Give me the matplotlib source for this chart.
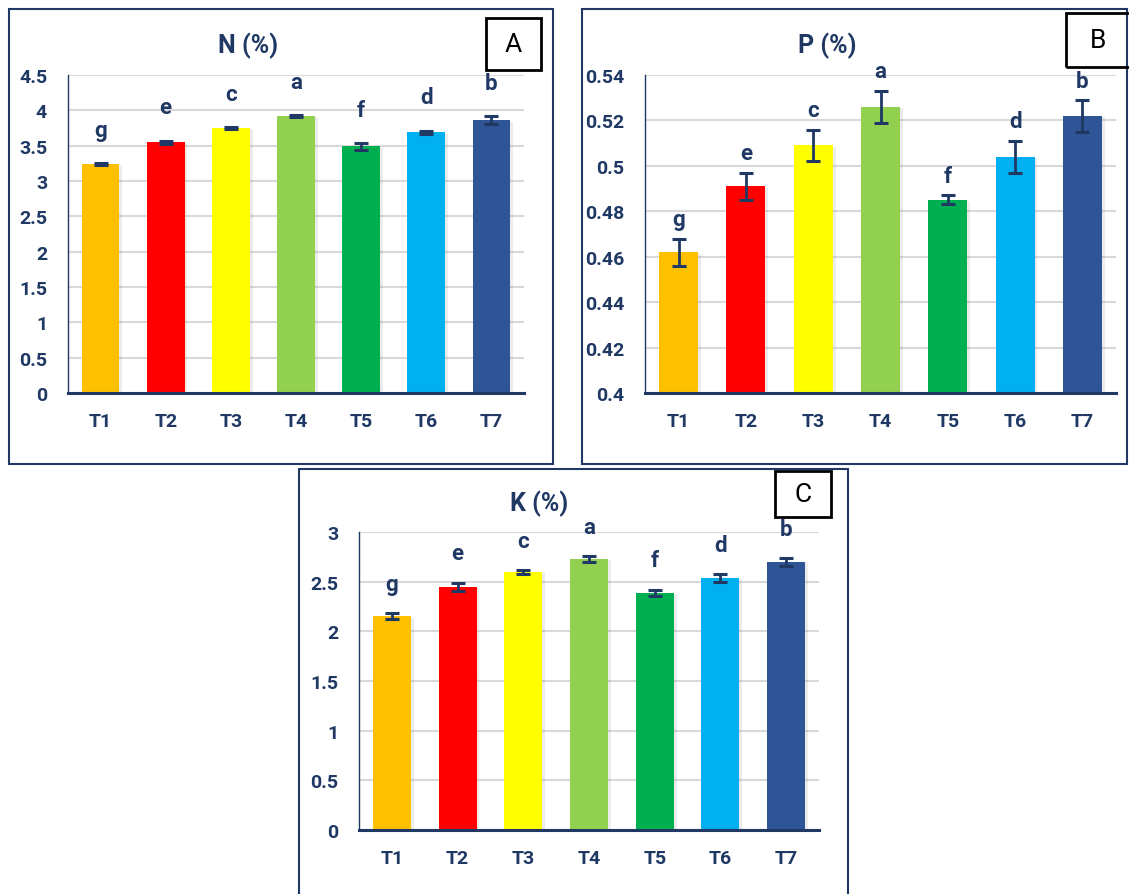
import numpy as np
import matplotlib
matplotlib.use("Agg")
import matplotlib.pyplot as plt
import matplotlib.patheffects as pe
from matplotlib.patches import Rectangle

plt.rcParams['font.family'] = ['Roboto', 'DejaVu Sans']

treatments = ['T1', 'T2', 'T3', 'T4', 'T5', 'T6', 'T7']
bar_colors = ['#FFC000', '#FF0000', '#FFFF00', '#92D050', '#00B050', '#00B0F0', '#2F5597']

n_mean = [3.24, 3.55, 3.75, 3.92, 3.49, 3.69, 3.86]
n_err = [0.01, 0.02, 0.01, 0.01, 0.05, 0.02, 0.06]
n_letters = ['g', 'e', 'c', 'a', 'f', 'd', 'b']

p_mean = [0.462, 0.491, 0.509, 0.526, 0.485, 0.504, 0.522]
p_err = [0.006, 0.006, 0.007, 0.007, 0.002, 0.007, 0.007]
p_letters = ['g', 'e', 'c', 'a', 'f', 'd', 'b']

k_mean = [2.15, 2.45, 2.60, 2.73, 2.39, 2.54, 2.70]
k_err = [0.03, 0.04, 0.02, 0.03, 0.03, 0.04, 0.04]
k_letters = ['g', 'e', 'c', 'a', 'f', 'd', 'b']

NAVY = '#1F3864'
W, H = 1129, 895


def fx(x):
    return x / W


def fy(y):
    return 1 - y / H


def px_rect(x0, y0, x1, y1, **kw):
    return Rectangle((fx(x0), fy(y1)), fx(x1) - fx(x0), fy(y0) - fy(y1),
                     transform=fig.transFigure, fill=False, **kw)


def panel(box, title, tpos, tag, tagbox, means, errs, letters, ylim, step, off):
    x0, y0, x1, y1 = box
    ax = fig.add_axes([fx(x0), fy(y1), fx(x1) - fx(x0), fy(y0) - fy(y1)])
    x = np.arange(len(treatments))
    bars = ax.bar(x, means, width=0.58, color=bar_colors, zorder=3)
    for b in bars:
        b.set_path_effects([pe.SimplePatchShadow(offset=(2, -1), shadow_rgbFace='gray', alpha=0.15),
                            pe.Normal()])
    ax.errorbar(x, means, yerr=errs, fmt='none', ecolor=NAVY, elinewidth=2,
                capsize=5, capthick=2.2, zorder=4)
    for xi, m, e, l in zip(x, means, errs, letters):
        ax.annotate(l, (xi, m + e), xytext=(0, off), textcoords='offset points',
                    ha='center', va='center', fontsize=16, fontweight='bold', color=NAVY)
    ax.set_xlim(-0.5, len(treatments) - 0.5)
    ax.set_ylim(*ylim)
    ax.set_yticks(np.arange(ylim[0], ylim[1] + step / 2, step))
    ax.yaxis.set_major_formatter(plt.FuncFormatter(lambda v, p: '%g' % round(v, 3)))
    ax.set_xticks(x)
    ax.set_xticklabels(treatments)
    ax.tick_params(length=0, labelsize=14, labelcolor=NAVY)
    ax.tick_params(axis='y', pad=15)
    ax.tick_params(axis='x', pad=14)
    for lab in ax.get_xticklabels() + ax.get_yticklabels():
        lab.set_fontweight('bold')
    ax.yaxis.grid(True, color='#D9D9D9', lw=1.5, zorder=0)
    ax.set_axisbelow(True)
    for s in ['top', 'right']:
        ax.spines[s].set_visible(False)
    ax.spines['left'].set_color(NAVY)
    ax.spines['left'].set_linewidth(1)
    ax.spines['bottom'].set_color(NAVY)
    ax.spines['bottom'].set_linewidth(2.2)
    ax.spines['bottom'].set_zorder(5)
    fig.text(fx(tpos[0]), fy(tpos[1]), title, ha='center', va='center',
             fontsize=18, fontweight='bold', color=NAVY)
    bx0, by0, bx1, by1 = tagbox
    fig.add_artist(px_rect(bx0, by0, bx1, by1, edgecolor='black', lw=2))
    fig.text(fx((bx0 + bx1) / 2), fy((by0 + by1) / 2), tag, ha='center', va='center',
             fontsize=19, color='black')
    return ax


fig = plt.figure(figsize=(11.29, 8.95), dpi=100)

# panel borders
fig.add_artist(px_rect(9, 10, 553, 465, edgecolor=NAVY, lw=1.5))
fig.add_artist(px_rect(582, 10, 1127, 465, edgecolor=NAVY, lw=1.5))
fig.add_artist(px_rect(299, 470, 848, 900, edgecolor=NAVY, lw=1.5))

panel((68, 76, 524, 394), 'N (%)', (248, 46), 'A', (486, 19, 541, 71),
      n_mean, n_err, n_letters, (0, 4.5), 0.5, 24)
panel((645, 76, 1116, 394), 'P (%)', (827, 46), 'B', (1066, 14, 1131, 68),
      p_mean, p_err, p_letters, (0.4, 0.54), 0.02, 14)
panel((359, 533, 819, 831), 'K (%)', (539, 504), 'C', (775, 472, 831, 518),
      k_mean, k_err, k_letters, (0, 3), 0.5, 21)

fig.savefig('out.png', dpi=100)
